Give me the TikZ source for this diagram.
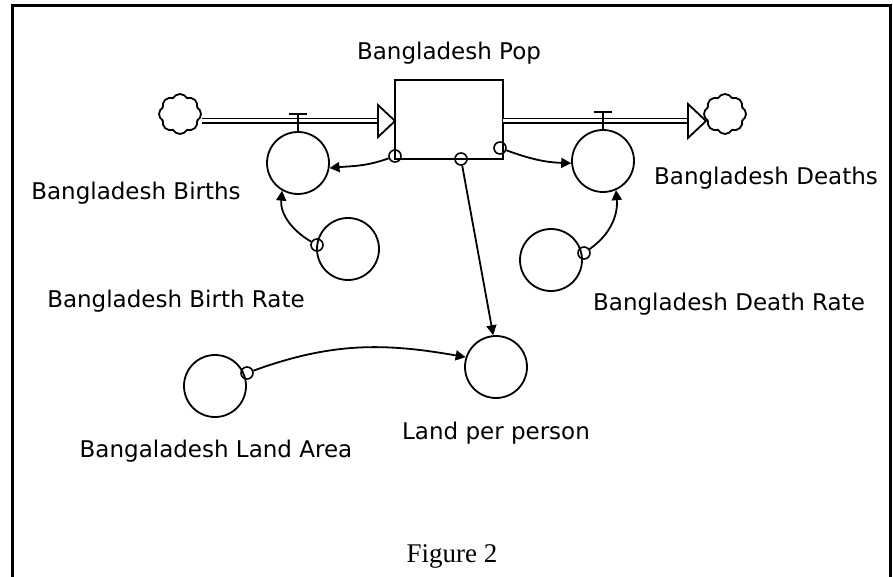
\documentclass[tikz,border=0pt]{standalone}
\usepackage{fontspec}
\newfontfamily\gen{DejaVu Sans}
\newfontfamily\tms{Liberation Serif}
\usetikzlibrary{arrows.meta,shapes.symbols}
\begin{document}
\begin{tikzpicture}[x=1pt,y=1pt,
  aux/.style={circle,draw,line width=1.8pt,minimum size=62pt,inner sep=0pt},
  tap/.style={circle,draw,line width=1.6pt,minimum size=12pt,inner sep=0pt},
  lbl/.style={anchor=base,inner sep=0pt,font={\gen\fontsize{23}{27}\selectfont}},
  link/.style={line width=1.8pt,-{Triangle[length=10pt,width=10pt]}},
  pipe/.style={line width=1.8pt,double,double distance=3pt},
  head/.style={line width=1.8pt,draw,fill=white},
  sky/.style={cloud,cloud puffs=8,cloud puff arc=120,aspect=1,draw,line width=1.8pt,minimum width=42pt,minimum height=40pt,inner sep=0pt},
  valve/.style={line width=1.8pt}]
\useasboundingbox (0,0) rectangle (893,-577);
\clip (0,0) rectangle (893,-577);
% frame
\draw[line width=3pt] (12,-600) -- (12,-6) -- (890.5,-6) -- (890.5,-600);
% stock
\node[draw,line width=2pt,minimum width=108pt,minimum height=79pt,inner sep=0pt] (stock) at (449,-119.5) {};
\node[lbl] (stocklbl) at (449,-60) {Bangladesh Pop};
% clouds
\node[sky] (cloudL) at (180,-114) {};
\node[sky] (cloudR) at (725,-114) {};
% flow coordinates
\coordinate (baseL) at (378,-121);
\coordinate (tipL) at (395,-121);
\coordinate (startR) at (503,-121);
\coordinate (baseR) at (688,-121);
\coordinate (tipR) at (706,-121);
% pipes
\draw[pipe] (cloudL.east |- baseL) -- (baseL);
\draw[head] (378,-105) -- (tipL) -- (378,-137) -- cycle;
\draw[pipe] (startR) -- (baseR);
\draw[head] (688,-104) -- (tipR) -- (688,-138) -- cycle;
% converters
\node[aux] (births) at (298,-163) {};
\node[aux] (deaths) at (603,-161) {};
\node[aux] (brate) at (348,-249) {};
\node[aux] (drate) at (551,-260) {};
\node[aux] (lpp) at (496,-367) {};
\node[aux] (larea) at (215,-386) {};
% valves
\draw[valve] (births.north) -- ++(0,17) coordinate (vL);
\draw[valve] ([xshift=-9pt]vL) -- ([xshift=9pt]vL);
\draw[valve] (deaths.north) -- ++(0,17) coordinate (vR);
\draw[valve] ([xshift=-9pt]vR) -- ([xshift=9pt]vR);
% taps
\node[tap] (sBL) at (395,-156) {};
\node[tap] (sM) at (461,-159) {};
\node[tap] (sBR) at (500,-148) {};
\node[tap] (sBr) at (317,-245) {};
\node[tap] (sDr) at (584,-253) {};
\node[tap] (sLa) at (247,-373) {};
% links
\draw[link] (sBL) to[out=200,in=5] (births.-9);
\draw[link] (sBR) to[out=-20,in=178] (deaths.184);
\draw[link] (sBr) to[out=150,in=-95] (births.240);
\draw[link] (sDr) to[out=35,in=-85] (deaths.-66);
\draw[link] (sM) -- (lpp.95);
\draw[link] (sLa) to[out=20,in=170] (lpp.162);
% labels
\node[lbl] (lb1) at (136,-200) {Bangladesh Births};
\node[lbl] (lb2) at (176,-307) {Bangladesh Birth Rate};
\node[lbl] (lb3) at (766,-185) {Bangladesh Deaths};
\node[lbl] (lb4) at (729,-310) {Bangladesh Death Rate};
\node[lbl] (lb5) at (496,-439) {Land per person};
\node[lbl] (lb6) at (216,-457) {Bangaladesh Land Area};
\node[anchor=base,inner sep=0pt,font={\tms\fontsize{27}{30}\selectfont}] (fig) at (452,-562) {Figure 2};
\end{tikzpicture}
\end{document}
